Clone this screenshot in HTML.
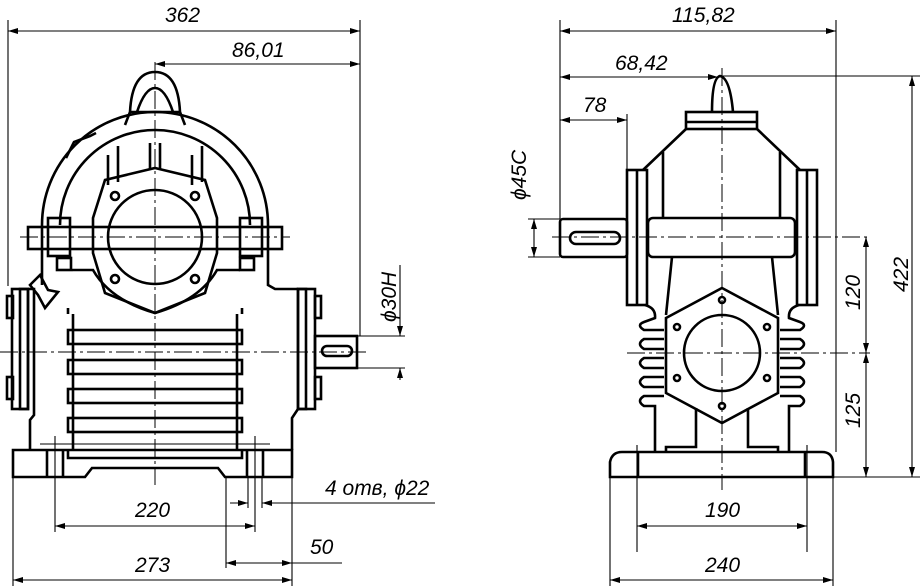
<!DOCTYPE html>
<html><head><meta charset="utf-8"><style>
html,body{margin:0;padding:0;background:#fff;}
svg{display:block;}
text{font-family:"Liberation Sans",sans-serif;font-style:italic;font-size:21px;fill:#000;}
.t{stroke:#000;stroke-width:2.6;fill:none;}
.n{stroke:#000;stroke-width:1.1;fill:none;}
.c{stroke:#000;stroke-width:1;fill:none;stroke-dasharray:18 4 3 4;}
</style></head><body>
<svg width="922" height="586" viewBox="0 0 922 586" xmlns="http://www.w3.org/2000/svg">
<defs>
<marker id="a" viewBox="0 0 10 6" refX="10" refY="3" markerWidth="10" markerHeight="6" orient="auto-start-reverse" markerUnits="userSpaceOnUse"><path d="M0,0 L10,3 L0,6 Z" fill="#000"/></marker>
</defs>

<!-- ===== LEFT VIEW ===== -->
<!-- eyelet -->
<path class="t" d="M125,125 L130,112 Q132,72 155,72 Q178,72 180,112 L185,125"/>
<path class="t" d="M137,112 Q145,88 155,88 Q165,88 173,112"/>
<line class="t" x1="130" y1="112" x2="180" y2="112"/>
<!-- housing arc -->
<path class="t" d="M42,225 A113,113 0 0 1 268,225"/>
<path class="t" d="M60,225 A95,95 0 0 1 250,225"/>
<path class="t" d="M66,158 L74,142 L90,136 L96,133"/>
<!-- ribs top -->
<line class="t" x1="108" y1="155" x2="108" y2="185"/><line class="t" x1="118" y1="146" x2="118" y2="182"/>
<line class="t" x1="192" y1="155" x2="192" y2="185"/><line class="t" x1="202" y1="146" x2="202" y2="182"/>
<line class="t" x1="150" y1="143" x2="150" y2="170"/><line class="t" x1="160" y1="143" x2="160" y2="170"/>
<!-- octagon flange -->
<path class="t" d="M155,168 L205,180 L217,218 L217,253 L205,293 L155,313 L105,293 L93,253 L93,218 L105,180 Z"/>
<circle class="t" cx="155" cy="237" r="47"/>
<circle class="t" cx="115" cy="196" r="4"/><circle class="t" cx="195" cy="196" r="4"/>
<circle class="t" cx="115" cy="279" r="4"/><circle class="t" cx="195" cy="279" r="4"/>
<!-- horizontal bar -->
<rect class="t" x="28" y="227" width="254" height="22"/>
<rect class="t" x="48" y="218" width="22" height="38"/><rect class="t" x="240" y="218" width="22" height="38"/>
<rect class="t" x="57" y="258" width="14" height="12"/><rect class="t" x="240" y="258" width="14" height="12"/>
<!-- housing body -->
<path class="t" d="M42,225 L42,285 M268,225 L268,285 L275,289 L298,289"/>
<path class="t" d="M72,270 L93,270 Q110,300 155,313 Q200,300 217,270 L240,270"/>
<!-- side flanges -->
<rect class="t" x="12" y="289" width="16" height="120"/><rect class="t" x="20" y="289" width="8" height="120"/>
<rect class="t" x="298" y="289" width="17" height="120"/><rect class="t" x="298" y="289" width="8" height="120"/>
<rect class="t" x="7" y="296" width="6" height="22"/><rect class="t" x="7" y="377" width="6" height="22"/>
<rect class="t" x="315" y="296" width="6" height="22"/><rect class="t" x="315" y="377" width="6" height="22"/>
<path class="t" d="M28,289 L34,289 L34,415 L30,420 L30,450"/>
<path class="t" d="M298,409 L292,418 L292,450"/>
<!-- grease nipple -->
<path class="t" d="M30,285 L40,275 L48,290 L58,292 L45,308 L38,295 Z"/>
<!-- fins -->
<g class="t">
<rect x="68" y="330" width="174" height="14"/>
<rect x="68" y="360" width="174" height="14"/>
<rect x="68" y="389" width="174" height="14"/>
<rect x="68" y="418" width="174" height="14"/>
</g>
<path class="t" d="M73,314 L73,450 M237,314 L237,450"/>
<line class="t" x1="68" y1="308" x2="68" y2="314"/><line class="t" x1="242" y1="308" x2="242" y2="314"/>
<!-- base -->
<path class="t" d="M13,450 L292,450 L292,477 L225,477 L218,468 L92,468 L85,477 L13,477 Z"/>
<path class="t" d="M68,450 L68,458 L242,458 L242,450"/>
<line class="t" x1="47" y1="450" x2="47" y2="477"/><line class="t" x1="63" y1="450" x2="63" y2="477"/>
<line class="t" x1="247" y1="450" x2="247" y2="477"/><line class="t" x1="263" y1="450" x2="263" y2="477"/>
<line class="n" x1="40" y1="444" x2="270" y2="444"/>
<!-- shaft -->
<rect class="t" x="315" y="336" width="42" height="32"/>
<rect class="t" x="322" y="346" width="30" height="10" rx="5"/>
<!-- centerlines left -->
<line class="c" x1="155" y1="62" x2="155" y2="485"/>
<line class="c" x1="20" y1="237" x2="290" y2="237"/>
<line class="c" x1="0" y1="352" x2="370" y2="352"/>

<!-- ===== RIGHT VIEW ===== -->
<path class="t" d="M712,112 Q712,78 720,76 Q730,78 733,112"/>
<rect class="t" x="686" y="112" width="71" height="17"/>
<line class="t" x1="686" y1="122" x2="757" y2="122"/>
<path class="t" d="M686,129 L643,170 M757,129 L800,170"/>
<path class="t" d="M663,152 L663,218 M780,152 L780,218"/>
<rect class="t" x="627" y="170" width="20" height="135"/><line class="t" x1="637" y1="170" x2="637" y2="305"/>
<rect class="t" x="797" y="170" width="20" height="135"/><line class="t" x1="807" y1="170" x2="807" y2="305"/>
<rect class="t" x="648" y="218" width="147" height="39" rx="5"/>
<path class="t" d="M672,257 L666,315 M772,257 L778,315"/>
<!-- shaft -->
<rect class="t" x="560" y="219" width="67" height="38" rx="3"/>
<rect class="t" x="570" y="232" width="50" height="12" rx="6"/>
<!-- hex -->
<path class="t" d="M722,288 L778,318 L778,393 L722,423 L666,393 L666,318 Z"/>
<circle class="t" cx="722" cy="353" r="38"/>
<g class="t"><circle cx="722" cy="300" r="3"/><circle cx="722" cy="406" r="3"/><circle cx="677" cy="327" r="3"/><circle cx="767" cy="327" r="3"/><circle cx="677" cy="378" r="3"/><circle cx="767" cy="378" r="3"/></g>
<!-- fins -->
<path class="t" d="M645,305 Q656,308 655,318 L644,322 Q636,325 644,330 L664,330 M664,339 L644,339 Q636,344 644,349 L664,349 M664,358 L644,358 Q636,363 644,368 L664,368 M664,377 L644,377 Q636,382 644,387 L664,387 M664,396 L644,396 Q636,401 644,406 L655,406 L655,452"/>
<path class="t" d="M799,305 Q788,308 789,318 L800,322 Q808,325 800,330 L780,330 M780,339 L800,339 Q808,344 800,349 L780,349 M780,358 L800,358 Q808,363 800,368 L780,368 M780,377 L800,377 Q808,382 800,387 L780,387 M780,396 L800,396 Q808,401 800,406 L789,406 L789,452"/>
<path class="t" d="M696,408 L696,447 L666,447 L666,452 M748,408 L748,447 L778,447 L778,452"/>
<!-- base -->
<path class="t" d="M610,477 L610,462 Q612,452 622,452 L822,452 Q832,452 833,462 L833,477 Z"/>
<line class="t" x1="638" y1="452" x2="638" y2="477"/><line class="t" x1="805" y1="452" x2="805" y2="477"/>
<!-- centerlines -->
<line class="c" x1="722" y1="68" x2="722" y2="490"/>
<line class="c" x1="552" y1="237" x2="870" y2="237"/>
<line class="c" x1="627" y1="353" x2="870" y2="353"/>
<line class="n" x1="637" y1="445" x2="637" y2="552"/>
<line class="n" x1="807" y1="445" x2="807" y2="552"/>

<!-- ===== DIMENSIONS LEFT ===== -->
<line class="n" x1="8" y1="20" x2="8" y2="286"/>
<line class="n" x1="360" y1="20" x2="360" y2="336"/>
<line class="n" x1="8" y1="31" x2="360" y2="31" marker-start="url(#a)" marker-end="url(#a)"/>
<text x="165" y="22">362</text>
<line class="n" x1="155" y1="64" x2="360" y2="64" marker-start="url(#a)" marker-end="url(#a)"/>
<text x="232" y="57">86,01</text>
<line class="n" x1="357" y1="336" x2="405" y2="336"/><line class="n" x1="357" y1="368" x2="405" y2="368"/>
<line class="n" x1="400" y1="265" x2="400" y2="336" marker-end="url(#a)"/>
<line class="n" x1="400" y1="380" x2="400" y2="368" marker-end="url(#a)"/>
<text transform="translate(396,322) rotate(-90)">ϕ30H</text>
<!-- bottom -->
<line class="n" x1="13" y1="477" x2="13" y2="586"/>
<line class="n" x1="292" y1="477" x2="292" y2="586"/>
<line class="n" x1="55" y1="436" x2="55" y2="532"/>
<line class="n" x1="255" y1="436" x2="255" y2="532"/>
<line class="n" x1="226" y1="477" x2="226" y2="568"/>
<line class="n" x1="248" y1="477" x2="248" y2="508"/><line class="n" x1="262" y1="477" x2="262" y2="508"/>
<line class="n" x1="230" y1="503" x2="248" y2="503" marker-end="url(#a)"/>
<line class="n" x1="435" y1="503" x2="262" y2="503" marker-end="url(#a)"/>
<text x="325" y="495">4 отв, ϕ22</text>
<line class="n" x1="55" y1="526" x2="255" y2="526" marker-start="url(#a)" marker-end="url(#a)"/>
<text x="135" y="517">220</text>
<line class="n" x1="226" y1="563" x2="292" y2="563" marker-start="url(#a)" marker-end="url(#a)"/>
<line class="n" x1="292" y1="563" x2="342" y2="563"/>
<text x="310" y="554">50</text>
<line class="n" x1="13" y1="580" x2="292" y2="580" marker-start="url(#a)" marker-end="url(#a)"/>
<text x="135" y="572">273</text>

<!-- ===== DIMENSIONS RIGHT ===== -->
<line class="n" x1="560" y1="20" x2="560" y2="219"/>
<line class="n" x1="836" y1="20" x2="836" y2="452"/>
<line class="n" x1="560" y1="31" x2="836" y2="31" marker-start="url(#a)" marker-end="url(#a)"/>
<text x="672" y="22">115,82</text>
<line class="n" x1="560" y1="77" x2="718" y2="77" marker-start="url(#a)" marker-end="url(#a)"/>
<line class="n" x1="718" y1="76" x2="920" y2="76"/>
<text x="615" y="70">68,42</text>
<line class="n" x1="627" y1="114" x2="627" y2="219"/>
<line class="n" x1="560" y1="120" x2="627" y2="120" marker-start="url(#a)" marker-end="url(#a)"/>
<text x="583" y="112">78</text>
<line class="n" x1="528" y1="219" x2="560" y2="219"/><line class="n" x1="528" y1="257" x2="560" y2="257"/>
<line class="n" x1="534" y1="219" x2="534" y2="257" marker-start="url(#a)" marker-end="url(#a)"/>
<text transform="translate(526,200) rotate(-90)">ϕ45C</text>
<line class="n" x1="833" y1="477" x2="920" y2="477"/>
<line class="n" x1="912" y1="76" x2="912" y2="477" marker-start="url(#a)" marker-end="url(#a)"/>
<text transform="translate(908,292) rotate(-90)">422</text>
<line class="n" x1="866" y1="237" x2="866" y2="353" marker-start="url(#a)" marker-end="url(#a)"/>
<line class="n" x1="866" y1="353" x2="866" y2="477" marker-start="url(#a)" marker-end="url(#a)"/>
<text transform="translate(860,310) rotate(-90)">120</text>
<text transform="translate(860,428) rotate(-90)">125</text>
<line class="n" x1="610" y1="477" x2="610" y2="586"/>
<line class="n" x1="833" y1="477" x2="833" y2="586"/>
<line class="n" x1="637" y1="526" x2="807" y2="526" marker-start="url(#a)" marker-end="url(#a)"/>
<text x="705" y="517">190</text>
<line class="n" x1="610" y1="580" x2="833" y2="580" marker-start="url(#a)" marker-end="url(#a)"/>
<text x="705" y="572">240</text>
</svg>
</body></html>
